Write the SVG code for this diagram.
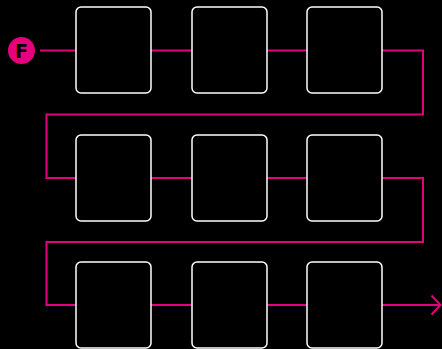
<svg xmlns="http://www.w3.org/2000/svg" width="442" height="349" viewBox="0 0 442 349">
<style>
.box{fill:#000;stroke:#fff;stroke-width:1.5}
.ln{fill:none;stroke:#e5007d;stroke-width:2}
</style>
<rect width="442" height="349" fill="#000"/>
<g id="connectors">
<path class="ln" d="M40,50.5H76"/>
<path class="ln" d="M151,50.5H192"/>
<path class="ln" d="M267,50.5H307"/>
<path class="ln" d="M382,50.5H423V114.5H46.5V178H76"/>
<path class="ln" d="M151,178H192"/>
<path class="ln" d="M267,178H307"/>
<path class="ln" d="M382,178H423V242H46.5V305H76"/>
<path class="ln" d="M151,305H192"/>
<path class="ln" d="M267,305H307"/>
<path class="ln" d="M382,305H440"/>
<path class="ln" d="M431.5,295.5L440.5,305L431.5,314.5"/>
</g>
<g id="start">
<circle cx="21.5" cy="50.5" r="13.5" fill="#e5007d"/>
<text x="21.5" y="57.5" text-anchor="middle" font-family="DejaVu Sans, sans-serif" font-weight="bold" font-size="19" fill="#000">F</text>
</g>
<g id="n1"><rect class="box" x="76" y="7" width="75" height="86" rx="5"/></g>
<g id="n2"><rect class="box" x="192" y="7" width="75" height="86" rx="5"/></g>
<g id="n3"><rect class="box" x="307" y="7" width="75" height="86" rx="5"/></g>
<g id="n4"><rect class="box" x="76" y="135" width="75" height="86" rx="5"/></g>
<g id="n5"><rect class="box" x="192" y="135" width="75" height="86" rx="5"/></g>
<g id="n6"><rect class="box" x="307" y="135" width="75" height="86" rx="5"/></g>
<g id="n7"><rect class="box" x="76" y="262" width="75" height="86" rx="5"/></g>
<g id="n8"><rect class="box" x="192" y="262" width="75" height="86" rx="5"/></g>
<g id="n9"><rect class="box" x="307" y="262" width="75" height="86" rx="5"/></g>
</svg>
